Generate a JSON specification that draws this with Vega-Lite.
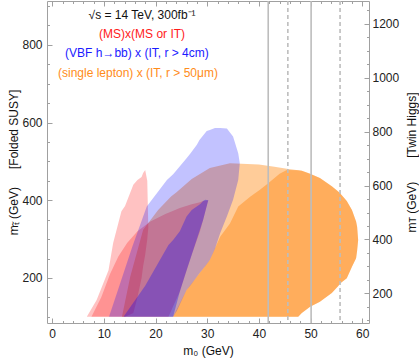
{
  "$schema": "https://vega.github.io/schema/vega-lite/v6.json",
  "width": 322,
  "height": 322,
  "autosize": {"type": "none"},
  "padding": {"left": 47, "top": 1, "right": 50, "bottom": 37},
  "background": "white",
  "view": {"stroke": "#a0a0a0", "strokeWidth": 1},
  "config": {
    "font": "Liberation Sans",
    "axis": {"labelFontSize": 12, "labelColor": "#222222", "titleFontSize": 12, "titleFontWeight": "normal", "titleColor": "#111111", "tickColor": "#a0a0a0", "domain": false, "grid": false}
  },
  "datasets": {
    "regions": [
      {"g": "R1", "x": 6.7, "lo": 100, "hi": 100},
      {"g": "R1", "x": 8.6, "lo": 100, "hi": 143},
      {"g": "R1", "x": 10.9, "lo": 100, "hi": 220},
      {"g": "R1", "x": 11.8, "lo": 100, "hi": 290},
      {"g": "R1", "x": 13.4, "lo": 100, "hi": 372},
      {"g": "R1", "x": 14.1, "lo": 100, "hi": 385},
      {"g": "R1", "x": 15.7, "lo": 110, "hi": 440},
      {"g": "R1", "x": 16.5, "lo": 150, "hi": 452},
      {"g": "R1", "x": 17.3, "lo": 200, "hi": 460},
      {"g": "R1", "x": 17.6, "lo": 230, "hi": 470},
      {"g": "R1", "x": 18.0, "lo": 260, "hi": 478},
      {"g": "R1", "x": 18.4, "lo": 300, "hi": 450},
      {"g": "R1", "x": 18.6, "lo": 330, "hi": 330},
      {"g": "R2", "x": 7.6, "lo": 100, "hi": 100},
      {"g": "R2", "x": 9.5, "lo": 100, "hi": 150},
      {"g": "R2", "x": 11.2, "lo": 100, "hi": 210},
      {"g": "R2", "x": 12.8, "lo": 100, "hi": 255},
      {"g": "R2", "x": 14.5, "lo": 100, "hi": 290},
      {"g": "R2", "x": 16.5, "lo": 100, "hi": 320},
      {"g": "R2", "x": 19.0, "lo": 100, "hi": 345},
      {"g": "R2", "x": 22.0, "lo": 100, "hi": 365},
      {"g": "R2", "x": 22.5, "lo": 100, "hi": 368},
      {"g": "R2", "x": 24.7, "lo": 165, "hi": 380},
      {"g": "R2", "x": 27.0, "lo": 260, "hi": 390},
      {"g": "R2", "x": 28.6, "lo": 320, "hi": 395},
      {"g": "R2", "x": 29.2, "lo": 349, "hi": 398},
      {"g": "R2", "x": 30.2, "lo": 400, "hi": 400},
      {"g": "B1", "x": 11.0, "lo": 100, "hi": 100},
      {"g": "B1", "x": 13.0, "lo": 100, "hi": 180},
      {"g": "B1", "x": 15.5, "lo": 100, "hi": 280},
      {"g": "B1", "x": 18.3, "lo": 100, "hi": 384},
      {"g": "B1", "x": 22.2, "lo": 100, "hi": 452},
      {"g": "B1", "x": 23.4, "lo": 100, "hi": 467},
      {"g": "B1", "x": 24.1, "lo": 115, "hi": 478},
      {"g": "B1", "x": 26.0, "lo": 169, "hi": 508},
      {"g": "B1", "x": 26.7, "lo": 180, "hi": 520},
      {"g": "B1", "x": 28.0, "lo": 203, "hi": 543},
      {"g": "B1", "x": 28.5, "lo": 212, "hi": 555},
      {"g": "B1", "x": 29.9, "lo": 235, "hi": 578},
      {"g": "B1", "x": 30.5, "lo": 246, "hi": 581},
      {"g": "B1", "x": 31.5, "lo": 275, "hi": 586},
      {"g": "B1", "x": 32.5, "lo": 315, "hi": 586},
      {"g": "B1", "x": 33.8, "lo": 358, "hi": 585},
      {"g": "B1", "x": 35.0, "lo": 401, "hi": 564},
      {"g": "B1", "x": 36.0, "lo": 452, "hi": 521},
      {"g": "B1", "x": 36.3, "lo": 495, "hi": 495},
      {"g": "B2", "x": 13.8, "lo": 100, "hi": 100},
      {"g": "B2", "x": 18.0, "lo": 100, "hi": 180},
      {"g": "B2", "x": 22.5, "lo": 100, "hi": 285},
      {"g": "B2", "x": 23.4, "lo": 100, "hi": 298},
      {"g": "B2", "x": 24.7, "lo": 165, "hi": 320},
      {"g": "B2", "x": 26.0, "lo": 220, "hi": 358},
      {"g": "B2", "x": 27.0, "lo": 260, "hi": 375},
      {"g": "B2", "x": 28.6, "lo": 325, "hi": 390},
      {"g": "B2", "x": 29.2, "lo": 349, "hi": 398},
      {"g": "B2", "x": 29.6, "lo": 370, "hi": 401},
      {"g": "B2", "x": 30.2, "lo": 400, "hi": 400},
      {"g": "OA", "x": 13.5, "lo": 100, "hi": 100},
      {"g": "OA", "x": 15.1, "lo": 100, "hi": 203},
      {"g": "OA", "x": 17.6, "lo": 100, "hi": 324},
      {"g": "OA", "x": 20.5, "lo": 100, "hi": 375},
      {"g": "OA", "x": 23.0, "lo": 100, "hi": 410},
      {"g": "OA", "x": 24.0, "lo": 100, "hi": 420},
      {"g": "OA", "x": 27.0, "lo": 100, "hi": 455},
      {"g": "OA", "x": 30.5, "lo": 100, "hi": 483},
      {"g": "OA", "x": 34.4, "lo": 100, "hi": 495},
      {"g": "OA", "x": 40.0, "lo": 100, "hi": 492},
      {"g": "OA", "x": 43.0, "lo": 100, "hi": 486},
      {"g": "OA", "x": 45.4, "lo": 100, "hi": 481},
      {"g": "OA", "x": 47.6, "lo": 100, "hi": 477},
      {"g": "OA", "x": 48.3, "lo": 110, "hi": 476},
      {"g": "OA", "x": 49.9, "lo": 126, "hi": 468},
      {"g": "OA", "x": 51.8, "lo": 139, "hi": 457},
      {"g": "OA", "x": 54.1, "lo": 161, "hi": 436},
      {"g": "OA", "x": 55.4, "lo": 180, "hi": 422},
      {"g": "OA", "x": 55.7, "lo": 186, "hi": 418},
      {"g": "OA", "x": 57.0, "lo": 199, "hi": 398},
      {"g": "OA", "x": 58.0, "lo": 229, "hi": 375},
      {"g": "OA", "x": 58.8, "lo": 251, "hi": 345},
      {"g": "OA", "x": 59.0, "lo": 270, "hi": 332},
      {"g": "OA", "x": 59.2, "lo": 298, "hi": 298},
      {"g": "OB", "x": 23.4, "lo": 100, "hi": 100},
      {"g": "OB", "x": 26.0, "lo": 100, "hi": 169},
      {"g": "OB", "x": 28.0, "lo": 100, "hi": 203},
      {"g": "OB", "x": 30.5, "lo": 100, "hi": 246},
      {"g": "OB", "x": 32.5, "lo": 100, "hi": 306},
      {"g": "OB", "x": 34.4, "lo": 100, "hi": 340},
      {"g": "OB", "x": 36.0, "lo": 100, "hi": 384},
      {"g": "OB", "x": 38.3, "lo": 100, "hi": 409},
      {"g": "OB", "x": 40.2, "lo": 100, "hi": 427},
      {"g": "OB", "x": 41.8, "lo": 100, "hi": 444},
      {"g": "OB", "x": 44.0, "lo": 100, "hi": 468},
      {"g": "OB", "x": 45.4, "lo": 100, "hi": 478},
      {"g": "OB", "x": 47.6, "lo": 100, "hi": 477},
      {"g": "OB", "x": 48.3, "lo": 110, "hi": 476},
      {"g": "OB", "x": 49.9, "lo": 126, "hi": 468},
      {"g": "OB", "x": 51.8, "lo": 139, "hi": 457},
      {"g": "OB", "x": 54.1, "lo": 161, "hi": 436},
      {"g": "OB", "x": 55.4, "lo": 180, "hi": 422},
      {"g": "OB", "x": 55.7, "lo": 186, "hi": 418},
      {"g": "OB", "x": 57.0, "lo": 199, "hi": 398},
      {"g": "OB", "x": 58.0, "lo": 229, "hi": 375},
      {"g": "OB", "x": 58.8, "lo": 251, "hi": 345},
      {"g": "OB", "x": 59.0, "lo": 270, "hi": 332},
      {"g": "OB", "x": 59.2, "lo": 298, "hi": 298}
    ],
    "vlines": [
      {"m0": 41.8, "dash": "solid"},
      {"m0": 45.6, "dash": "dashed"},
      {"m0": 50.1, "dash": "solid"},
      {"m0": 55.7, "dash": "dashed"}
    ],
    "notes": [
      {"text": "√s = 14 TeV, 300fb⁻¹", "x": 17.4, "y": 877, "c": "#111111"},
      {"text": "(MS)x(MS or IT)", "x": 17.4, "y": 828, "c": "#ff1a1a"},
      {"text": "(VBF h→bb) x (IT, r > 4cm)", "x": 16.4, "y": 779, "c": "#1a1aff"},
      {"text": "(single lepton) x (IT, r > 50μm)", "x": 16.6, "y": 728, "c": "#ff8c1a"}
    ],
    "twin": [{"mT": 200}, {"mT": 1200}]
  },
  "resolve": {"scale": {"y": "independent"}, "axis": {"x": "independent", "y": "independent"}},
  "layer": [
    {
      "data": {"name": "regions"},
      "transform": [{"filter": "datum.g == 'OA'"}],
      "mark": {"type": "area", "color": "#ff8000", "opacity": 0.4},
      "encoding": {
        "x": {"field": "x", "type": "quantitative", "scale": {"domain": [-1, 61.3], "nice": false, "zero": false},
              "axis": {"orient": "bottom", "values": [0, 10, 20, 30, 40, 50, 60], "ticks": false, "labelPadding": 5, "title": "m₀ (GeV)", "titlePadding": 6}},
        "y": {"field": "hi", "type": "quantitative", "stack": null, "scale": {"domain": [84, 913], "nice": false, "zero": false},
              "axis": {"orient": "left", "values": [200, 400, 600, 800], "ticks": false, "labelPadding": 5, "title": "mₜ̃ (GeV)\u2002\u2003[Folded SUSY]", "titleX": -34, "titleY": 161, "titleAlign": "center", "titleBaseline": "middle", "titleAngle": 270}},
        "y2": {"field": "lo"}
      }
    },
    {
      "data": {"name": "regions"},
      "transform": [{"filter": "datum.g == 'OB'"}],
      "mark": {"type": "area", "color": "#ff8000", "opacity": 0.4},
      "encoding": {
        "x": {"field": "x", "type": "quantitative", "scale": {"domain": [-1, 61.3], "nice": false, "zero": false},
              "axis": {"orient": "bottom", "values": [0, 10, 20, 30, 40, 50, 60], "labels": false, "tickSize": -5, "title": null}},
        "y": {"field": "hi", "type": "quantitative", "stack": null, "scale": {"domain": [84, 913], "nice": false, "zero": false},
              "axis": {"orient": "left", "values": [200, 400, 600, 800], "labels": false, "tickSize": -5, "title": null}},
        "y2": {"field": "lo"}
      }
    },
    {
      "data": {"name": "regions"},
      "transform": [{"filter": "datum.g == 'R1'"}],
      "mark": {"type": "area", "color": "#ff0000", "opacity": 0.24},
      "encoding": {
        "x": {"field": "x", "type": "quantitative", "scale": {"domain": [-1, 61.3], "nice": false, "zero": false},
              "axis": {"orient": "bottom", "values": [2, 4, 6, 8, 12, 14, 16, 18, 22, 24, 26, 28, 32, 34, 36, 38, 42, 44, 46, 48, 52, 54, 56, 58], "labels": false, "tickSize": -2.5, "title": null}},
        "y": {"field": "hi", "type": "quantitative", "stack": null, "scale": {"domain": [84, 913], "nice": false, "zero": false},
              "axis": {"orient": "left", "values": [100, 150, 250, 300, 350, 450, 500, 550, 650, 700, 750, 850, 900], "labels": false, "tickSize": -2.5, "title": null}},
        "y2": {"field": "lo"}
      }
    },
    {
      "data": {"name": "regions"},
      "transform": [{"filter": "datum.g == 'R2'"}],
      "mark": {"type": "area", "color": "#ff0000", "opacity": 0.24},
      "encoding": {
        "x": {"field": "x", "type": "quantitative", "scale": {"domain": [-1, 61.3], "nice": false, "zero": false},
              "axis": {"orient": "top", "values": [0, 10, 20, 30, 40, 50, 60], "labels": false, "tickSize": -5, "title": null}},
        "y": {"field": "hi", "type": "quantitative", "stack": null, "scale": {"domain": [84, 913], "nice": false, "zero": false}, "axis": null},
        "y2": {"field": "lo"}
      }
    },
    {
      "data": {"name": "regions"},
      "transform": [{"filter": "datum.g == 'B1'"}],
      "mark": {"type": "area", "color": "#0000ff", "opacity": 0.24},
      "encoding": {
        "x": {"field": "x", "type": "quantitative", "scale": {"domain": [-1, 61.3], "nice": false, "zero": false},
              "axis": {"orient": "top", "values": [2, 4, 6, 8, 12, 14, 16, 18, 22, 24, 26, 28, 32, 34, 36, 38, 42, 44, 46, 48, 52, 54, 56, 58], "labels": false, "tickSize": -2.5, "title": null}},
        "y": {"field": "hi", "type": "quantitative", "stack": null, "scale": {"domain": [84, 913], "nice": false, "zero": false}, "axis": null},
        "y2": {"field": "lo"}
      }
    },
    {
      "data": {"name": "regions"},
      "transform": [{"filter": "datum.g == 'B2'"}],
      "mark": {"type": "area", "color": "#0000ff", "opacity": 0.3},
      "encoding": {
        "x": {"field": "x", "type": "quantitative", "scale": {"domain": [-1, 61.3], "nice": false, "zero": false}, "axis": null},
        "y": {"field": "hi", "type": "quantitative", "stack": null, "scale": {"domain": [84, 913], "nice": false, "zero": false}, "axis": null},
        "y2": {"field": "lo"}
      }
    },
    {
      "data": {"name": "vlines"},
      "mark": {"type": "rule", "color": "#bdbdbd", "strokeWidth": 1.6},
      "encoding": {
        "x": {"field": "m0", "type": "quantitative", "scale": {"domain": [-1, 61.3], "nice": false, "zero": false}, "axis": null},
        "strokeDash": {"field": "dash", "type": "nominal", "scale": {"domain": ["solid", "dashed"], "range": [[1, 0], [4, 3]]}, "legend": null}
      }
    },
    {
      "data": {"name": "notes"},
      "mark": {"type": "text", "fontSize": 12, "align": "center", "baseline": "middle", "font": "Liberation Sans"},
      "encoding": {
        "x": {"field": "x", "type": "quantitative", "scale": {"domain": [-1, 61.3], "nice": false, "zero": false}, "axis": null},
        "y": {"field": "y", "type": "quantitative", "scale": {"domain": [84, 913], "nice": false, "zero": false}, "axis": null},
        "text": {"field": "text"},
        "color": {"field": "c", "type": "nominal", "scale": null}
      }
    },
    {
      "data": {"name": "twin"},
      "mark": {"type": "point", "opacity": 0},
      "encoding": {
        "y": {"field": "mT", "type": "quantitative", "scale": {"domain": [90, 1285], "nice": false, "zero": false},
              "axis": {"orient": "right", "values": [200, 400, 600, 800, 1000, 1200], "format": "d", "ticks": false, "labelPadding": 3, "title": "mᴛ (GeV)\u2003\u2003[Twin Higgs]", "titleX": 42, "titleY": 161, "titleAlign": "center", "titleBaseline": "middle", "titleAngle": 270}}
      }
    },
    {
      "data": {"name": "twin"},
      "mark": {"type": "point", "opacity": 0},
      "encoding": {
        "y": {"field": "mT", "type": "quantitative", "scale": {"domain": [90, 1285], "nice": false, "zero": false},
              "axis": {"orient": "right", "values": [200, 400, 600, 800, 1000, 1200], "labels": false, "tickSize": -5, "title": null}}
      }
    },
    {
      "data": {"name": "twin"},
      "mark": {"type": "point", "opacity": 0},
      "encoding": {
        "y": {"field": "mT", "type": "quantitative", "scale": {"domain": [90, 1285], "nice": false, "zero": false},
              "axis": {"orient": "right", "values": [100, 150, 250, 300, 350, 450, 500, 550, 650, 700, 750, 850, 900, 950, 1050, 1100, 1150, 1250], "labels": false, "tickSize": -2.5, "title": null}}
      }
    }
  ]
}
